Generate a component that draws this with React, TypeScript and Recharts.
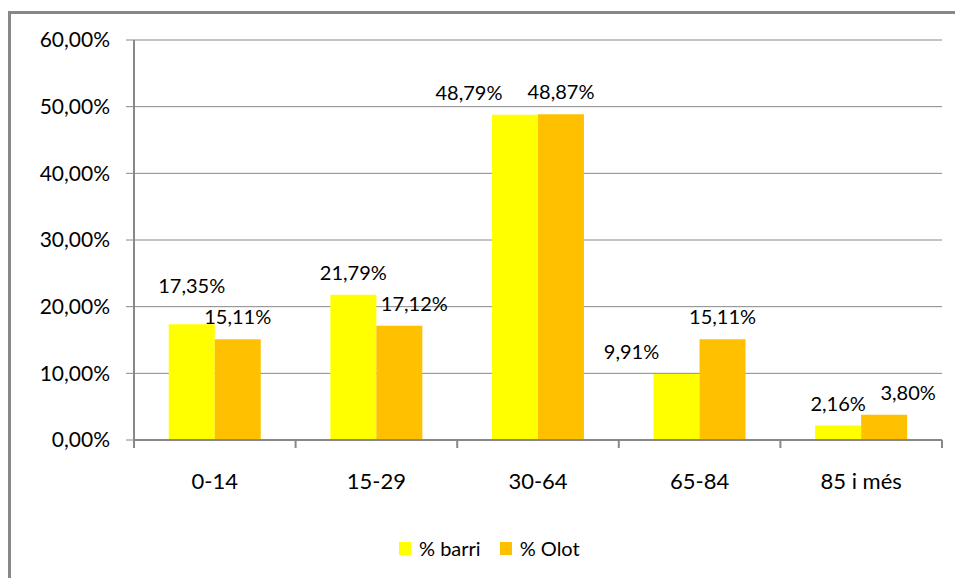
import { Bar, BarChart, CartesianGrid, LabelList, XAxis, YAxis } from "recharts";

const categories = ["0-14", "15-29", "30-64", "65-84", "85 i més"];
const barri = [17.35, 21.79, 48.79, 9.91, 2.16];
const olot = [15.11, 17.12, 48.87, 15.11, 3.8];
const yTicks = [0, 10, 20, 30, 40, 50, 60];

// the labels in the original were dragged by hand here and there
const barriNudge = [
	{ dx: 0, dy: -16 },
	{ dx: 0, dy: 0 },
	{ dx: -46, dy: 0 },
	{ dx: -45, dy: 0 },
	{ dx: 0, dy: 0 },
];
const olotNudge = [
	{ dx: 0, dy: 0 },
	{ dx: 15, dy: 0 },
	{ dx: 0, dy: 0 },
	{ dx: 0, dy: 0 },
	{ dx: 24, dy: 0 },
];

const W = 955;
const H = 578;
const AXIS_W = 134;
const RIGHT = 13;
const PLOT_W = W - AXIS_W - RIGHT;
const FONT = "Lato, 'Open Sans', sans-serif";
const GRAY = "#888888";

const data = categories.map((name, i) => ({ name, barri: barri[i], olot: olot[i] }));

const fmt = (v: number) => `${v.toFixed(2).replace(".", ",")}%`;

function makeLabel(nudge: { dx: number; dy: number }[]) {
	return (props: any) => {
		const { x, y, width, value, index } = props;
		const n = nudge[index] ?? { dx: 0, dy: 0 };
		return (
			<text
				x={Number(x) + Number(width) / 2 + n.dx}
				y={Number(y) - 23 + n.dy}
				textAnchor="middle"
				dominantBaseline="central"
				fontFamily={FONT}
				fontSize={20}
				fill="#000"
			>
				{fmt(Number(value))}
			</text>
		);
	};
}

function CategoryTick(props: any) {
	const { x, y, payload, index } = props;
	const band = PLOT_W / categories.length;
	const left = x - band / 2;
	return (
		<g>
			<line x1={left} x2={left} y1={y - 8} y2={y} stroke={GRAY} strokeWidth={2} />
			{index === categories.length - 1 && (
				<line x1={left + band} x2={left + band} y1={y - 8} y2={y} stroke={GRAY} strokeWidth={2} />
			)}
			<text
				x={x}
				y={y + 32}
				textAnchor="middle"
				dominantBaseline="central"
				fontFamily={FONT}
				fontSize={22}
				fill="#000"
			>
				{payload.value}
			</text>
		</g>
	);
}

function LegendBox() {
	const items = [
		{ label: "% barri", color: "#FFFF00" },
		{ label: "% Olot", color: "#FFC000" },
	];
	return (
		<div style={{ display: "flex", alignItems: "center", gap: 19, fontFamily: FONT, fontSize: 20 }}>
			{items.map((it) => (
				<div key={it.label} style={{ display: "flex", alignItems: "center", gap: 8 }}>
					<span style={{ width: 12, height: 13, background: it.color, display: "inline-block" }} />
					<span style={{ color: "#000" }}>{it.label}</span>
				</div>
			))}
		</div>
	);
}

export default function App() {
	return (
		<div
			style={{
				position: "absolute",
				left: 0,
				top: 0,
				width: W,
				height: H,
				background: "#fff",
				overflow: "hidden",
			}}
		>
			<div
				style={{
					position: "absolute",
					left: 8,
					top: 11,
					width: 1000,
					height: 1000,
					border: `3px solid ${GRAY}`,
				}}
			/>
			<div style={{ position: "absolute", left: 0, top: 0 }}>
				<BarChart
					width={W}
					height={H}
					data={data}
					margin={{ top: 40, right: RIGHT, bottom: 98, left: 0 }}
					barCategoryGap="21.5%"
					barGap={0}
				>
					<CartesianGrid vertical={false} stroke={GRAY} strokeWidth={1} />
					<XAxis
						dataKey="name"
						axisLine={{ stroke: GRAY, strokeWidth: 2 }}
						tickLine={false}
						tick={<CategoryTick />}
						interval={0}
						height={40}
					/>
					<YAxis
						width={AXIS_W}
						domain={[0, 60]}
						ticks={yTicks}
						interval={0}
						tickFormatter={fmt}
						axisLine={{ stroke: GRAY, strokeWidth: 2 }}
						tickLine={{ stroke: GRAY }}
						tickSize={8}
						tickMargin={16}
						tick={{ fill: "#000", fontSize: 21, fontFamily: FONT }}
					/>
					<Bar dataKey="barri" name="% barri" fill="#FFFF00" isAnimationActive={false}>
						<LabelList dataKey="barri" content={makeLabel(barriNudge)} />
					</Bar>
					<Bar dataKey="olot" name="% Olot" fill="#FFC000" isAnimationActive={false}>
						<LabelList dataKey="olot" content={makeLabel(olotNudge)} />
					</Bar>
				</BarChart>
			</div>
			<div style={{ position: "absolute", left: 399, top: 536 }}>
				<LegendBox />
			</div>
		</div>
	);
}
